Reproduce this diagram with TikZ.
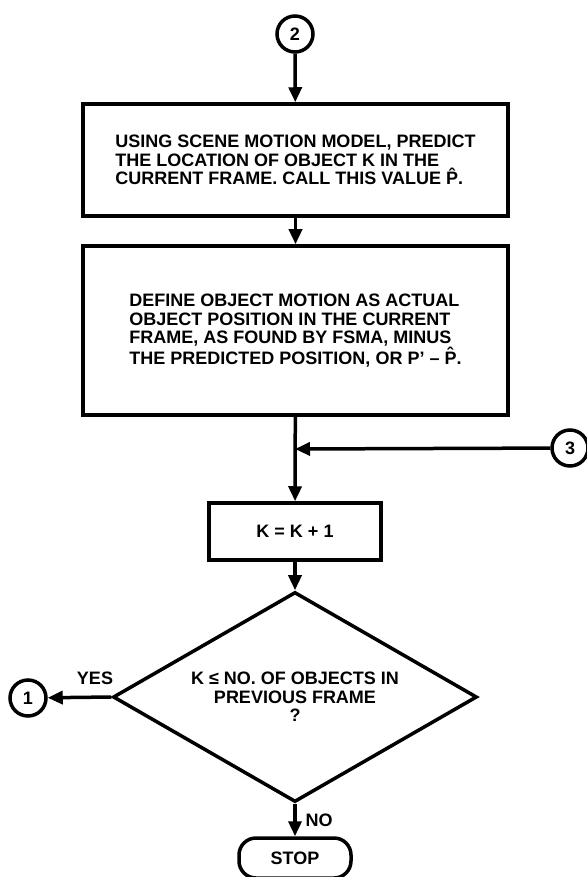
\documentclass[tikz,border=0pt]{standalone}
\usepackage{fontspec}
\setmainfont{Liberation Sans}
\usetikzlibrary{arrows.meta, shapes.geometric}
\newcommand{\phat}{\^{P}}

\begin{document}
\begin{tikzpicture}[x=1pt, y=-1pt, line width=3.5pt,
    every node/.style={font=\fontsize{18}{18.5}\selectfont\bfseries},
    procbox/.style={draw, rectangle, minimum width=425pt, inner sep=0pt, align=left},
    connector/.style={draw, circle, minimum size=36pt, inner sep=0pt},
    decision/.style={draw, diamond, minimum width=364pt, minimum height=210pt, aspect=1.73, inner sep=0pt, align=center},
    flow/.style={-{Triangle[length=15pt, width=13pt]}}]
    \useasboundingbox (0,0) rectangle (586,877);
    \node[connector] (c2) at (295,34) {2};
    \node[procbox, minimum height=112pt] (box1) at (295.5,160)
      {USING SCENE MOTION MODEL, PREDICT\\ THE LOCATION OF OBJECT K IN THE\\ CURRENT FRAME. CALL THIS VALUE \phat.};
    \node[procbox, minimum height=169pt] (box2) at (295.5,330.5)
      {DEFINE OBJECT MOTION AS ACTUAL\\ OBJECT POSITION IN THE CURRENT\\ FRAME, AS FOUND BY FSMA, MINUS\\ THE PREDICTED POSITION, OR P’ -- \phat.};
    \coordinate (merge) at (295,449);
    \node[connector] (c3) at (570,448) {3};
    \node[draw, rectangle, minimum width=172pt, minimum height=57pt] (box3) at (295,531.5) {K = K + 1};
    \node[decision] (dec) at (295,697) {K ≤ NO. OF OBJECTS IN\\ PREVIOUS FRAME\\ ?};
    \node[connector] (c1) at (28,698) {1};
    \node (lblyes) at (95,678) {YES};
    \node (lblno) at (319,820) {NO};
    \node[draw, rectangle, rounded corners=17pt, minimum width=112pt, minimum height=40pt] (stop) at (295,858) {STOP};
    \draw[flow] (c2) -- (box1);
    \draw[flow] (box1) -- (box2);
    \draw[flow] (box2) -- (box3);
    \draw[flow] (c3) -- (merge);
    \draw[flow] (box3) -- (dec);
    \draw[flow] (dec.west) -- (c1);
    \draw[flow] (dec) -- (stop);
\end{tikzpicture}
\end{document}
